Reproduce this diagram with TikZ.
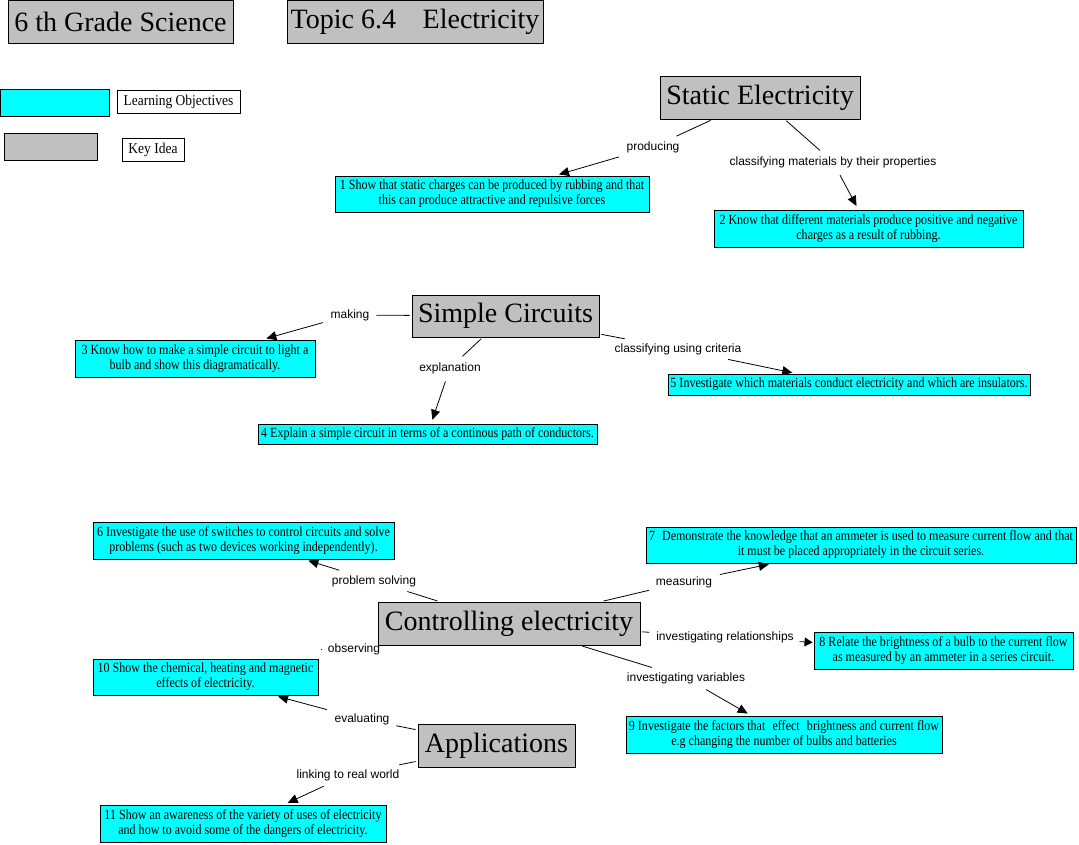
\documentclass[tikz,border=0pt]{standalone}
\usepackage{fontspec}
\setmainfont{Liberation Serif}
\newfontfamily\labelfont{Liberation Sans}
\newfontfamily\objfont[FakeStretch=0.86]{Liberation Serif}
\newfontfamily\legfont[FakeStretch=0.9]{Liberation Serif}
\usetikzlibrary{arrows.meta}
\definecolor{keygray}{HTML}{C0C0C0}
\definecolor{objcyan}{HTML}{00FFFF}
\tikzset{
  keybox/.style={draw=black, line width=0.9pt, fill=keygray, inner sep=0pt, font=\fontsize{28}{30}\selectfont},
  objbox/.style={draw=black, line width=0.9pt, fill=objcyan, inner sep=0pt, align=center, font=\objfont\fontsize{14}{15}\selectfont},
  legbox/.style={draw=black, line width=0.8pt, fill=white, inner sep=0pt, font=\legfont\fontsize{15}{16}\selectfont},
  lbl/.style={font=\labelfont\fontsize{12}{13}\selectfont, inner sep=1pt, outer sep=3pt},
  conn/.style={line width=0.8pt, shorten <=2pt, shorten >=3pt},
  arr/.style={line width=0.8pt, shorten <=4pt, shorten >=4pt, -{Triangle[length=10pt,width=9pt]}},
}
\begin{document}
\begin{tikzpicture}[x=1pt,y=-1pt]
\useasboundingbox (0,0) rectangle (1079,845);
% headers
\node[keybox, minimum width=225pt, minimum height=43pt] (grade) at (120.5,21.5) {6 th Grade Science};
\node[keybox, minimum width=256pt, minimum height=43pt] (topic) at (415,21.5) {Topic 6.4\hspace{0.7em} Electricity};
% legend
\node[draw=black, line width=0.9pt, fill=objcyan, minimum width=109pt, minimum height=27pt] (legLO) at (54.5,102.5) {};
\node[legbox, minimum width=123pt, minimum height=23pt] (legLOtext) at (178.5,101.5) {Learning Objectives};
\node[draw=black, line width=0.9pt, fill=keygray, minimum width=93pt, minimum height=27pt] (legKI) at (50.5,146.5) {};
\node[legbox, minimum width=62pt, minimum height=23pt] (legKItext) at (153,149.5) {Key Idea};
% key ideas
\node[keybox, minimum width=200pt, minimum height=43pt] (static) at (760,97.5) {Static Electricity};
\node[keybox, minimum width=187pt, minimum height=42pt] (simple) at (505.5,316) {Simple Circuits};
\node[keybox, minimum width=262pt, minimum height=43pt] (ctrl) at (509,623.5) {Controlling electricity};
\node[keybox, minimum width=157pt, minimum height=43pt] (apps) at (496.5,745.5) {Applications};
% objectives
\node[objbox, minimum width=314pt, minimum height=36pt] (o1) at (492,194) {1 Show that static charges can be produced by rubbing and that\\this can produce attractive and repulsive forces};
\node[objbox, minimum width=309pt, minimum height=37pt] (o2) at (868.5,228.5) {2 Know that different materials produce positive and negative\\charges as a result of rubbing.};
\node[objbox, minimum width=240pt, minimum height=37pt] (o3) at (195,358.5) {3 Know how to make a simple circuit to light a\\bulb and show this diagramatically.};
\node[objbox, minimum width=339pt, minimum height=20pt] (o4) at (427.5,434) {4 Explain a simple circuit in terms of a continous path of conductors.};
\node[objbox, minimum width=362pt, minimum height=21pt] (o5) at (849,384.5) {5 Investigate which materials conduct electricity and which are insulators.};
\node[objbox, minimum width=301pt, minimum height=37pt] (o6) at (243.5,540.5) {6 Investigate the use of switches to control circuits and solve\\problems (such as two devices working independently).};
\node[objbox, minimum width=430pt, minimum height=36pt] (o7) at (861,545) {7\hspace{0.5em}Demonstrate the knowledge that an ammeter is used to measure current flow and that\\it must be placed appropriately in the circuit series.};
\node[objbox, minimum width=259pt, minimum height=37pt] (o8) at (943.5,650.5) {8 Relate the brightness of a bulb to the current flow\\as measured by an ammeter in a series circuit.};
\node[objbox, minimum width=316pt, minimum height=37pt] (o9) at (784,734.5) {9 Investigate the factors that\hspace{0.3em} effect\hspace{0.3em} brightness and current flow\\e.g changing the number of bulbs and batteries};
\node[objbox, minimum width=225pt, minimum height=36pt] (o10) at (205.5,677) {10 Show the chemical, heating and magnetic\\effects of electricity.};
\node[objbox, minimum width=286pt, minimum height=37pt] (o11) at (243,823.5) {11 Show an awareness of the variety of uses of electricity\\and how to avoid some of the dangers of electricity.};
% link labels
\node[lbl] (producing) at (653,147) {producing};
\node[lbl] (classmat) at (833,162) {classifying materials by their properties};
\node[lbl] (making) at (350,315) {making};
\node[lbl] (explanation) at (450,368) {explanation};
\node[lbl] (classcrit) at (678,349) {classifying using criteria};
\node[lbl] (probsolv) at (374,581) {problem solving};
\node[lbl] (measuring) at (684,582) {measuring};
\node[lbl] (observing) at (354,649) {observing};
\node[lbl] (invrel) at (725,637) {investigating relationships};
\node[lbl] (invvar) at (686,678) {investigating variables};
\node[lbl] (evaluating) at (362,719) {evaluating};
\node[lbl] (linking) at (348,775) {linking to real world};
% connectors
\draw[conn] (static) -- (producing);
\draw[arr] (producing) -- (o1);
\draw[conn] (static) -- (classmat);
\draw[arr] (classmat) -- (o2);
\draw[conn] (simple) -- (making);
\draw[arr] (making) -- (o3);
\draw[conn] (simple) -- (explanation);
\draw[arr] (explanation) -- (o4);
\draw[conn] (simple) -- (classcrit);
\draw[arr] (classcrit) -- (o5);
\draw[conn] (ctrl) -- (probsolv);
\draw[arr] (probsolv) -- (o6);
\draw[conn] (ctrl) -- (measuring);
\draw[arr] (measuring) -- (o7);
\draw[line width=0.8pt] ([xshift=-2pt]observing.west) -- ([xshift=-3pt]observing.west);
\draw[conn] (ctrl) -- (invrel);
\draw[line width=0.8pt, shorten <=2pt, shorten >=1pt, -{Triangle[length=8pt,width=9pt]}] (invrel) -- (o8);
\draw[conn] (ctrl) -- (invvar);
\draw[arr] (invvar) -- (o9);
\draw[conn] (apps) -- (evaluating);
\draw[arr] (evaluating) -- (o10);
\draw[conn] (apps) -- (linking);
\draw[arr] (linking) -- (o11);
\end{tikzpicture}
\end{document}
